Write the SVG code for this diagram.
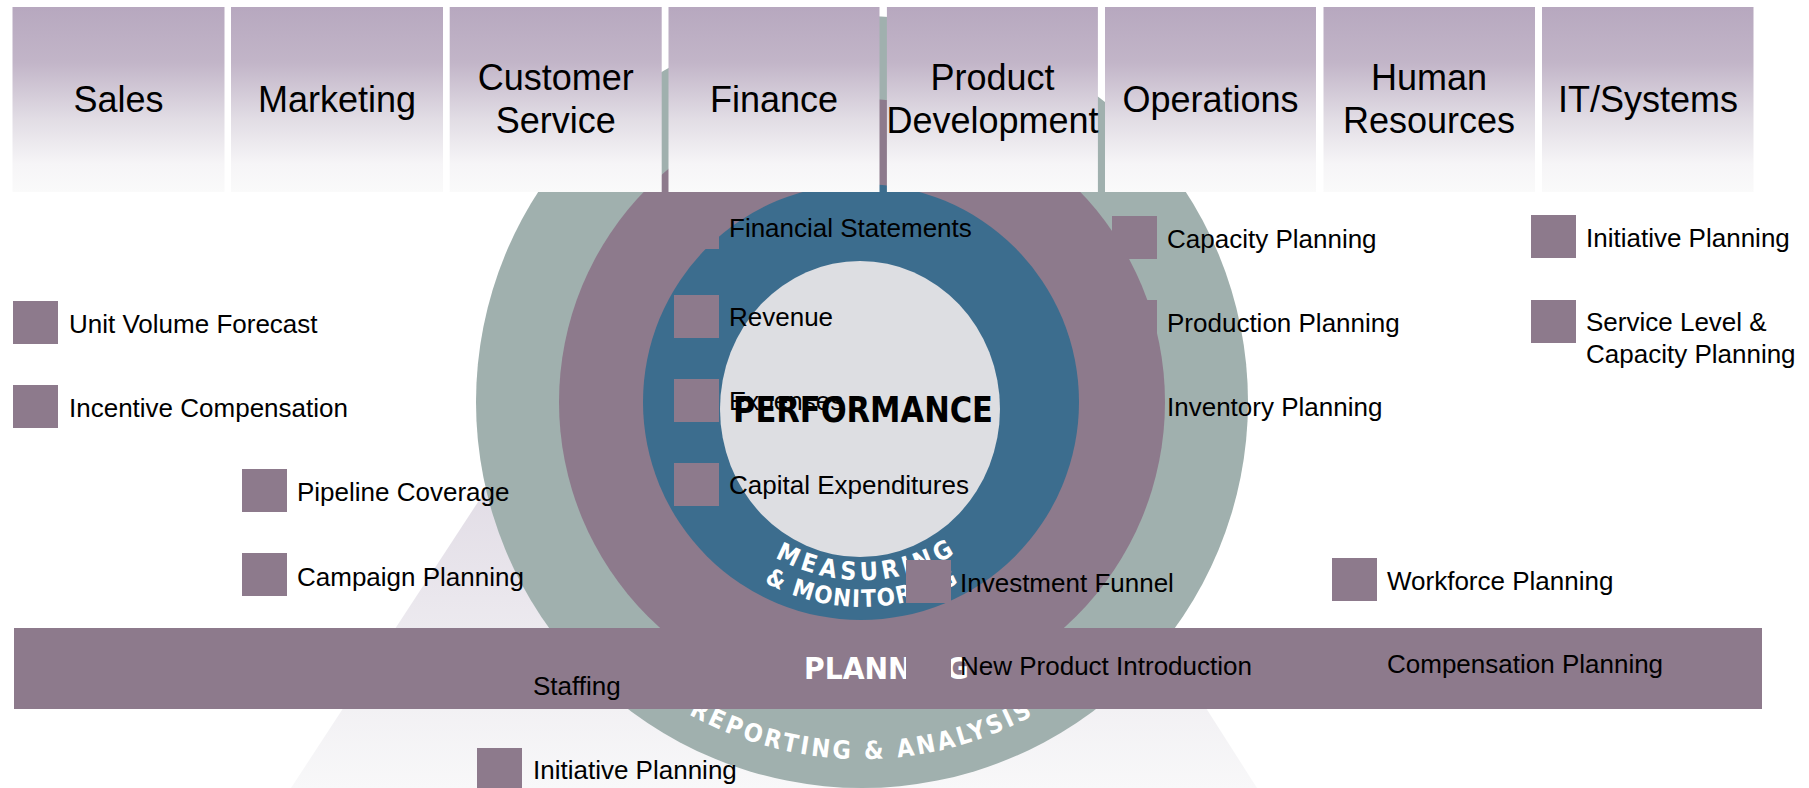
<svg xmlns="http://www.w3.org/2000/svg" width="1809" height="788" viewBox="0 0 1809 788">
<defs>
<linearGradient id="hdr" x1="0" y1="0" x2="0" y2="1">
<stop offset="0" stop-color="#b7a8bf"/>
<stop offset="0.3" stop-color="#c2b5c8"/>
<stop offset="0.6" stop-color="#e1dce4"/>
<stop offset="0.85" stop-color="#f6f5f7"/>
<stop offset="1" stop-color="#fafafa"/>
</linearGradient>
<linearGradient id="pyr" gradientUnits="userSpaceOnUse" x1="0" y1="40" x2="0" y2="788">
<stop offset="0" stop-color="#c9bfcf"/>
<stop offset="0.6" stop-color="#e2dde6"/>
<stop offset="1" stop-color="#f8f8f9"/>
</linearGradient>
<path id="arcMeas" d="M 707.8,491 A 178 178 0 0 0 1016.2,491"/>
<path id="arcMon" d="M 684.5,504.5 A 205 205 0 0 0 1039.5,504.5"/>
<path id="arcRep" d="M 552.8,580.5 A 357 357 0 0 0 1171.2,580.5"/>
</defs>
<style>
.hbox{fill:url(#hdr);}
.htxt{font-family:"Liberation Sans",Arial,sans-serif;font-size:36px;fill:#000;text-anchor:middle;}
.bul{fill:#8d7a8c;}
.lbl{font-family:"Liberation Sans",Arial,sans-serif;font-size:26px;fill:#000;}
.ring{font-family:"DejaVu Sans Condensed","DejaVu Sans",sans-serif;font-weight:bold;fill:#fff;}
</style>
<rect width="1809" height="788" fill="#fff"/>

<g id="pyramid">
<polygon points="780,40 1257,788 291,788" fill="url(#pyr)"/>
</g>

<g id="rings">
<circle cx="862" cy="402" r="386" fill="#a0b0ae"/>
<circle cx="862" cy="402" r="303" fill="#8d7a8c"/>
<circle cx="861" cy="402" r="218" fill="#3c6d8e"/>
<ellipse cx="860" cy="409" rx="140" ry="148" fill="#dddee2"/>
</g>

<g id="ring-labels">
<text class="ring" font-size="25" letter-spacing="3"><textPath href="#arcRep" startOffset="50%" text-anchor="middle">REPORTING &amp; ANALYSIS</textPath></text>
<text class="ring" font-size="25" letter-spacing="4.5"><textPath href="#arcMeas" startOffset="51.5%" text-anchor="middle">MEASURING</textPath></text>
<text class="ring" font-size="24" letter-spacing="1.5"><textPath href="#arcMon" startOffset="50%" text-anchor="middle">&amp; MONITORING</textPath></text>
</g>

<g id="planning-bar">
<rect x="14" y="628" width="1748" height="81" fill="#8d7a8c"/>
<text x="804" y="679" font-family="'Liberation Sans Narrow','DejaVu Sans Condensed',sans-serif" font-weight="bold" font-size="30" fill="#fff" textLength="165" lengthAdjust="spacingAndGlyphs">PLANNING</text>
</g>

<g id="headers">
<g id="h-sales"><rect class="hbox" x="12.5" y="7" width="212" height="185"/><text class="htxt" x="118.5" y="112">Sales</text></g>
<g id="h-marketing"><rect class="hbox" x="231" y="7" width="212" height="185"/><text class="htxt" x="337" y="112">Marketing</text></g>
<g id="h-customer"><rect class="hbox" x="449.7" y="7" width="212" height="185"/><text class="htxt" x="555.7" y="90">Customer</text><text class="htxt" x="555.7" y="133">Service</text></g>
<g id="h-finance"><rect class="hbox" x="668.5" y="7" width="211" height="185"/><text class="htxt" x="774" y="112">Finance</text></g>
<g id="h-product"><rect class="hbox" x="886.9" y="7" width="211" height="185"/><text class="htxt" x="992.5" y="90">Product</text><text class="htxt" x="992.5" y="133">Development</text></g>
<g id="h-operations"><rect class="hbox" x="1105" y="7" width="211" height="185"/><text class="htxt" x="1210.5" y="112">Operations</text></g>
<g id="h-hr"><rect class="hbox" x="1323.5" y="7" width="211.5" height="185"/><text class="htxt" x="1429" y="90">Human</text><text class="htxt" x="1429" y="133">Resources</text></g>
<g id="h-it"><rect class="hbox" x="1542" y="7" width="211.5" height="185"/><text class="htxt" x="1648" y="112">IT/Systems</text></g>
</g>

<g id="sales-items">
<g id="unit-volume"><rect class="bul" x="13" y="301" width="45" height="43"/><text class="lbl" x="69" y="333">Unit Volume Forecast</text></g>
<g id="incentive"><rect class="bul" x="13" y="385" width="45" height="43"/><text class="lbl" x="69" y="417">Incentive Compensation</text></g>
</g>
<g id="marketing-items">
<g id="pipeline"><rect class="bul" x="242" y="469" width="45" height="43"/><text class="lbl" x="297" y="501">Pipeline Coverage</text></g>
<g id="campaign"><rect class="bul" x="242" y="553" width="45" height="43"/><text class="lbl" x="297" y="586">Campaign Planning</text></g>
</g>
<g id="finance-items">
<g id="fin-statements"><rect class="bul" x="674" y="206" width="45" height="43"/><text class="lbl" x="729" y="237">Financial Statements</text></g>
<g id="revenue"><rect class="bul" x="674" y="295" width="45" height="43"/><text class="lbl" x="729" y="326">Revenue</text></g>
<g id="expenses"><rect class="bul" x="674" y="379" width="45" height="43"/><text class="lbl" x="729" y="410">Expenses</text></g>
<g id="capex"><rect class="bul" x="674" y="463" width="45" height="43"/><text class="lbl" x="729" y="494">Capital Expenditures</text></g>
</g>
<g id="operations-items">
<g id="capacity"><rect class="bul" x="1112" y="216" width="45" height="43"/><text class="lbl" x="1167" y="248">Capacity Planning</text></g>
<g id="production"><rect class="bul" x="1112" y="300" width="45" height="43"/><text class="lbl" x="1167" y="332">Production Planning</text></g>
<g id="inventory"><text class="lbl" x="1167" y="416">Inventory Planning</text></g>
</g>
<g id="product-items">
<g id="investment"><rect class="bul" x="906" y="560" width="45" height="43"/><text class="lbl" x="960" y="592">Investment Funnel</text></g>
<g id="npi"><rect class="bul" x="906" y="644" width="45" height="43"/><text class="lbl" x="960" y="675">New Product Introduction</text></g>
</g>
<g id="hr-items">
<g id="workforce"><rect class="bul" x="1332" y="558" width="45" height="43"/><text class="lbl" x="1387" y="590">Workforce Planning</text></g>
<g id="compensation"><text class="lbl" x="1387" y="673">Compensation Planning</text></g>
</g>
<g id="it-items">
<g id="it-initiative"><rect class="bul" x="1531" y="215" width="45" height="43"/><text class="lbl" x="1586" y="247">Initiative Planning</text></g>
<g id="service-level"><rect class="bul" x="1531" y="300" width="45" height="43"/><text class="lbl" x="1586" y="331">Service Level &amp;</text><text class="lbl" x="1586" y="363">Capacity Planning</text></g>
</g>
<g id="cs-items">
<g id="staffing"><text class="lbl" x="533" y="695">Staffing</text></g>
<g id="cs-initiative"><rect class="bul" x="477" y="748" width="45" height="43"/><text class="lbl" x="533" y="779">Initiative Planning</text></g>
</g>

<g id="performance">
<text x="733" y="422" font-family="'DejaVu Sans Condensed','Liberation Sans Narrow',sans-serif" font-weight="bold" font-size="35" fill="#000" textLength="260" lengthAdjust="spacingAndGlyphs">PERFORMANCE</text>
</g>
</svg>
